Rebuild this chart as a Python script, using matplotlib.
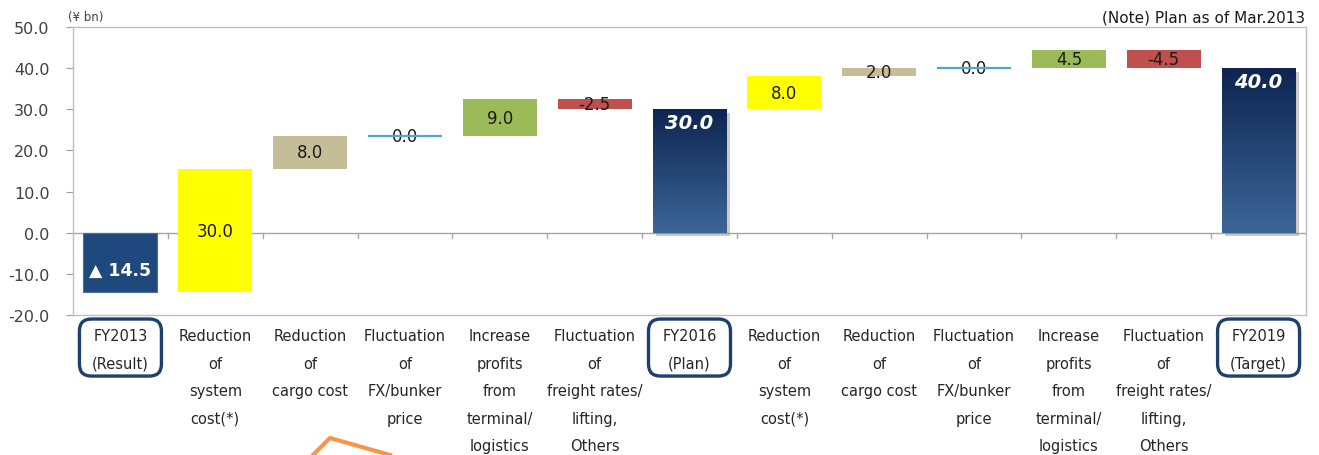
import numpy as np
import matplotlib
matplotlib.use("Agg")
import matplotlib.pyplot as plt
import matplotlib.patheffects as pe
from matplotlib.colors import LinearSegmentedColormap
from matplotlib.lines import Line2D
from matplotlib.patches import FancyBboxPatch

# Operating profit bridge FY2013 -> FY2016 -> FY2019 (in ¥ bn)
categories = [
    "FY2013\n(Result)",
    "Reduction\nof\nsystem\ncost(*)",
    "Reduction\nof\ncargo cost",
    "Fluctuation\nof\nFX/bunker\nprice",
    "Increase\nprofits\nfrom\nterminal/\nlogistics",
    "Fluctuation\nof\nfreight rates/\nlifting,\nOthers",
    "FY2016\n(Plan)",
    "Reduction\nof\nsystem\ncost(*)",
    "Reduction\nof\ncargo cost",
    "Fluctuation\nof\nFX/bunker\nprice",
    "Increase\nprofits\nfrom\nterminal/\nlogistics",
    "Fluctuation\nof\nfreight rates/\nlifting,\nOthers",
    "FY2019\n(Target)",
]
values = [-14.5, 30.0, 8.0, 0.0, 9.0, -2.5, 30.0, 8.0, 2.0, 0.0, 4.5, -4.5, 40.0]
kinds = ["total", "system", "cargo", "fx", "terminal", "freight", "total",
         "system", "cargo", "fx", "terminal", "freight", "total"]
value_labels = ["\u25b2 14.5", "30.0", "8.0", "0.0", "9.0", "-2.5", "30.0",
                "8.0", "2.0", "0.0", "4.5", "-4.5", "40.0"]

colors = {
    "system": "#ffff00",
    "cargo": "#c4bd97",
    "fx": "#4bacc6",
    "terminal": "#9bbb59",
    "freight": "#c0504d",
}
navy = "#1f497d"
grad = LinearSegmentedColormap.from_list("navy", ["#3d6698", "#0d2550"])

label_font = ["Liberation Sans Narrow", "DejaVu Sans"]

fig = plt.figure(figsize=(13.19, 4.56), dpi=100)
ax = fig.add_axes([73 / 1319, 1 - 316 / 456, (1306 - 73) / 1319, (316 - 28) / 456])

x = np.arange(len(values))
w = 0.78
running = 0.0
for i, (v, k) in enumerate(zip(values, kinds)):
    if k == "total":
        bottom, height = 0.0, v
        running = v
    else:
        bottom, height = running, v
        running += v

    if k == "total":
        if i == 0:
            ax.bar(i, height, w, bottom=bottom, color=navy, edgecolor="#4a6fa0",
                   linewidth=0.8, zorder=3)
            ax.text(i, -9.0, value_labels[i], ha="center", va="center",
                    color="white", fontsize=12.5, fontweight="bold", zorder=5)
        else:
            b = ax.bar(i, height, w, bottom=bottom, color="#1d3c68", zorder=3)
            b[0].set_path_effects([pe.SimplePatchShadow(offset=(2.5, -2.5), shadow_rgbFace="#7f7f7f", alpha=0.4),
                                   pe.Normal()])
            img = np.linspace(0, 1, 256).reshape(-1, 1)
            ax.imshow(img, cmap=grad, origin="lower", aspect="auto", zorder=4,
                      extent=[i - w / 2, i + w / 2, bottom, bottom + height])
            ax.text(i, v - 0.9, value_labels[i], ha="center", va="top",
                    color="white", fontsize=14, fontweight="bold",
                    fontstyle="italic", zorder=5)
    elif k == "fx":
        ax.hlines(bottom, i - w / 2, i + w / 2, color=colors[k], linewidth=1.6, zorder=3)
        ax.text(i, bottom, value_labels[i], ha="center", va="center",
                color="#1a1a1a", fontsize=12, zorder=2)
    else:
        ax.bar(i, height, w, bottom=bottom, color=colors[k], zorder=3)
        ax.text(i, bottom + height / 2, value_labels[i], ha="center", va="center",
                color="#1a1a1a", fontsize=12, zorder=5)

ax.set_xlim(-0.5, len(values) - 0.5)
ax.set_ylim(-20, 50)
ax.set_yticks(np.arange(-20, 51, 10))
ax.set_yticklabels([f"{t:.1f}" for t in np.arange(-20, 51, 10)])
ax.tick_params(axis="y", length=5, color="#a0a0a0", labelsize=11.5,
               labelcolor="#404040", pad=12)
ax.set_xticks([])
for s in ax.spines.values():
    s.set_color("#bfbfbf")
    s.set_linewidth(1.0)

# horizontal axis at zero with category separators
ax.axhline(0, color="#a6a6a6", linewidth=1.0, zorder=2)
for b in np.arange(0.5, len(values) - 1, 1.0):
    ax.plot([b, b], [0, -1.2], color="#a6a6a6", linewidth=1.0, zorder=2)

# category labels below the plot
trans = ax.get_xaxis_transform()
for i, c in enumerate(categories):
    ax.text(i, -0.045, c, transform=trans, ha="center", va="top",
            fontsize=10.5, linespacing=2.05, color="#262626",
            family=label_font, clip_on=False)

# rounded frames around the FY columns (drawn in inches so corners stay round)
fig.canvas.draw()
for i, k in enumerate(kinds):
    if k != "total":
        continue
    cx = ax.transData.transform((i, 0))[0] / fig.dpi
    y_top = ax.transAxes.transform((0, -0.014))[1] / fig.dpi
    y_bot = ax.transAxes.transform((0, -0.212))[1] / fig.dpi
    bw = 0.82
    box = FancyBboxPatch((cx - bw / 2, y_bot), bw, y_top - y_bot,
                         boxstyle="round,pad=0,rounding_size=0.12",
                         fc="none", ec="#1f3f6e", lw=2.4,
                         transform=fig.dpi_scale_trans, clip_on=False)
    fig.add_artist(box)

fig.text(68 / 1319, 1 - 18 / 456, "(\u00a5 bn)", fontsize=8.5, color="#404040",
         va="center", ha="left")
fig.text(1305 / 1319, 1 - 18 / 456, "(Note) Plan as of Mar.2013", fontsize=11,
         color="#1a1a1a", va="center", ha="right", family=label_font)

# callout edge at the bottom
fig.add_artist(Line2D([313 / 1319, 330 / 1319, 390 / 1319],
                      [0, 1 - 439 / 456, 0], color="#f79646", linewidth=3,
                      transform=fig.transFigure))

fig.savefig("out.png", dpi=100)
